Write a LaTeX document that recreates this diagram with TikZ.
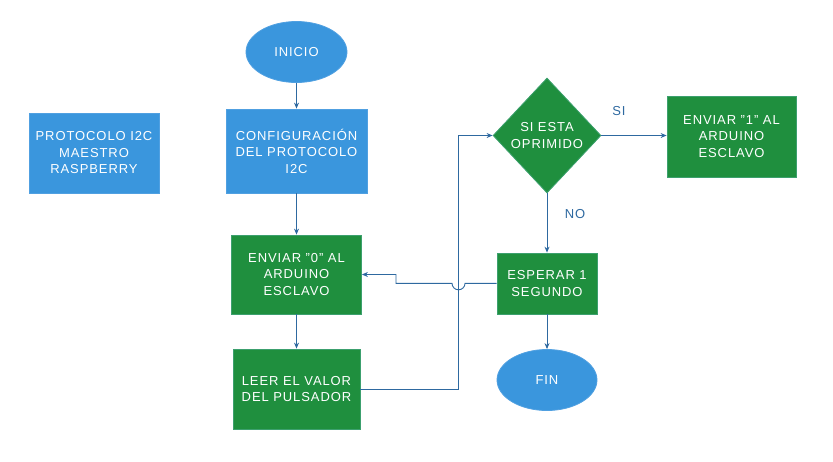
\documentclass[tikz,border=0pt]{standalone}
\usepackage{fontspec}
\setmainfont[LetterSpace=7]{Liberation Sans}
\usetikzlibrary{shapes.geometric,arrows.meta}
\definecolor{bfill}{RGB}{58,150,221}
\definecolor{bdraw}{RGB}{80,160,225}
\definecolor{gfill}{RGB}{31,143,62}
\definecolor{gdraw}{RGB}{60,160,110}
\definecolor{lnk}{RGB}{46,105,160}
\begin{document}
\begin{tikzpicture}[x=1pt,y=-1pt,
  txt/.style={text=white,font=\fontsize{13}{16.5}\selectfont,align=center,inner sep=0pt},
  bluebox/.style={txt,rectangle,fill=bfill,draw=bdraw,line width=0.8pt},
  greenbox/.style={txt,rectangle,fill=gfill,draw=gdraw,line width=0.8pt},
  blueell/.style={txt,ellipse,fill=bfill,draw=bdraw,line width=0.8pt},
  greendia/.style={txt,diamond,fill=gfill,draw=gdraw,line width=0.8pt},
  conn/.style={draw=lnk,line width=0.9pt,-{Stealth[length=6pt,width=5pt]}},
  lbl/.style={text=lnk,font=\fontsize{13}{14}\selectfont,inner sep=0pt}]
\useasboundingbox (0,0) rectangle (833,461);
\node[bluebox,minimum width=130pt,minimum height=80pt] (proto) at (94,153) {PROTOCOLO I2C\\MAESTRO\\RASPBERRY};
\node[blueell,minimum width=101pt,minimum height=61pt] (inicio) at (296.5,52) {INICIO};
\node[bluebox,minimum width=141pt,minimum height=84pt] (config) at (296.5,151) {CONFIGURACIÓN\\DEL PROTOCOLO\\I2C};
\node[greenbox,minimum width=130pt,minimum height=79pt] (env0) at (296.5,274.5) {ENVIAR "0" AL\\ARDUINO\\ESCLAVO};
\node[greenbox,minimum width=127pt,minimum height=80pt] (leer) at (296.5,389) {LEER EL VALOR\\DEL PULSADOR};
\node[greendia,minimum width=108pt,minimum height=115pt] (dia) at (547,135.5) {SI ESTA\\OPRIMIDO};
\node[greenbox,minimum width=129pt,minimum height=81pt] (env1) at (731.5,136.5) {ENVIAR "1" AL\\ARDUINO\\ESCLAVO};
\node[greenbox,minimum width=100pt,minimum height=61pt] (esp) at (547,283.5) {ESPERAR 1\\SEGUNDO};
\node[blueell,minimum width=100pt,minimum height=61pt] (fin) at (547,380) {FIN};
\node[lbl] (si) at (619,111) {SI};
\node[lbl] (no) at (575,214) {NO};
\coordinate (c1) at (458.5,389);
\coordinate (c2) at (458.5,135.5);
\coordinate (h1) at (465,283.3);
\coordinate (c3) at (396,283.3);
\coordinate (c4) at (396,274.5);
\draw[conn] (inicio) -- (config);
\draw[conn] (config) -- (env0);
\draw[conn] (env0) -- (leer);
\draw[conn] (leer.east |- c1) -- (c1) -- (c2) -- (dia.west);
\draw[conn] (dia.east) -- (dia.east -| env1.west);
\draw[conn] (dia.south) -- (esp.north);
\draw[conn] (esp) -- (fin);
\draw[conn] (esp.west |- h1) -- (h1) arc[start angle=0,end angle=180,radius=6.5] -- (c3) -- (c4) -- (env0.east);
\end{tikzpicture}
\end{document}
